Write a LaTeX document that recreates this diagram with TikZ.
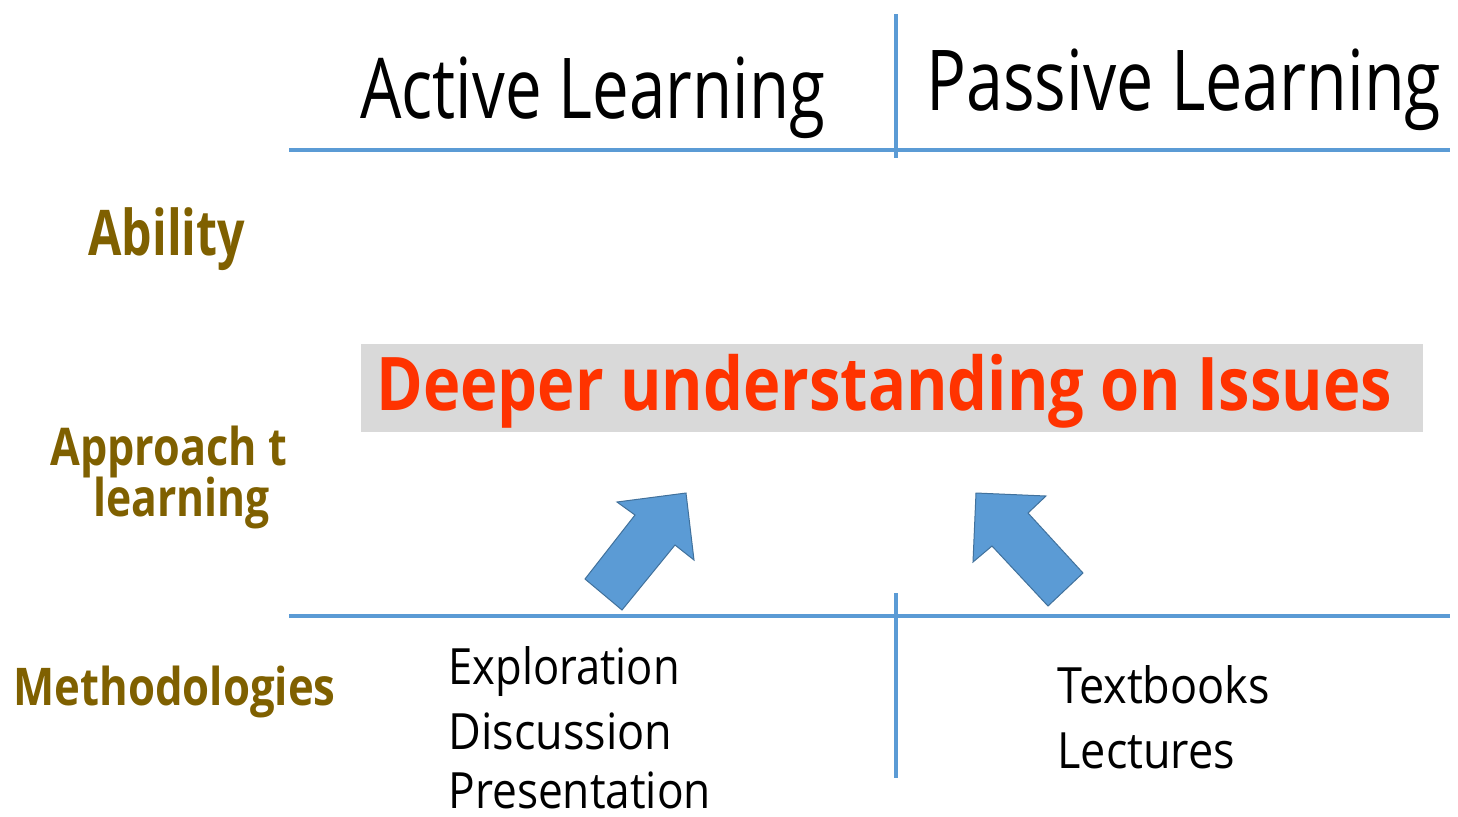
\documentclass[tikz,border=0pt]{standalone}
\usepackage{fontspec}
\usepackage{graphicx}
\setmainfont{Open Sans}
\definecolor{lineblue}{HTML}{5B9BD5}
\definecolor{arrowedge}{HTML}{41719C}
\definecolor{olive}{HTML}{7F6000}
\definecolor{issuered}{HTML}{FF3300}
\definecolor{boxgray}{HTML}{D9D9D9}
\newcommand{\narrow}[2]{\scalebox{#1}[1]{#2}}
\tikzset{
	divider/.style={lineblue, line width=2pt},
	heading/.style={anchor=base west, inner sep=0pt, font=\fontsize{42}{48}\selectfont},
	rowlabel/.style={anchor=base west, inner sep=0pt, text=olive, font=\bfseries\fontsize{26}{30}\selectfont},
	method/.style={anchor=base west, inner sep=0pt, font=\fontsize{25}{30}\selectfont},
	blockarrow/.style={fill=lineblue, draw=arrowedge, line width=0.5pt, line join=miter}
}
\begin{document}
\begin{tikzpicture}[x=0.5pt, y=-0.5pt]
	\useasboundingbox (0,0) rectangle (1458,816);
	
	\node[heading] (active) at (360,118) {\narrow{0.778}{Active Learning}};
	\node[heading] (passive) at (926,110) {\narrow{0.79}{Passive Learning}};
	
	\draw[divider] (289,150) -- (1450,150);
	\draw[divider] (896,14) -- (896,158);
	\draw[divider] (289,616) -- (1450,616);
	\draw[divider] (896,593) -- (896,778);
	
	\node[rowlabel, font=\bfseries\fontsize{31.5}{36}\selectfont] (ability) at (88,255) {\narrow{0.767}{Ability}};
	\node[rowlabel] (approach) at (50,465) {\narrow{0.83}{Approach t}};
	\node[rowlabel] (learning) at (93,516) {\narrow{0.82}{learning}};
	\node[rowlabel] (methods) at (13,705) {\narrow{0.84}{Methodologies}};
	
	\fill[boxgray] (361,344) rectangle (1423,432);
	\node[anchor=base west, inner sep=0pt, text=issuered, font=\bfseries\fontsize{37}{42}\selectfont] (issues) at (376,410) {\narrow{0.854}{Deeper understanding on Issues}};
	
	\draw[blockarrow] (686,493) -- (617,502) -- (635,515) -- (585,579) -- (622,610) -- (675,545) -- (694,560) -- cycle;
	\draw[blockarrow] (976,493) -- (1046,496) -- (1028,513) -- (1083,573) -- (1048,606) -- (992,546) -- (973,562) -- cycle;
	
	\node[method] (explore) at (448,684) {\narrow{0.87}{Exploration}};
	\node[method] (discuss) at (448,749) {\narrow{0.9}{Discussion}};
	\node[method] (present) at (448,808) {\narrow{0.885}{Presentation}};
	\node[method] (books) at (1057,703) {\narrow{0.9}{Textbooks}};
	\node[method] (lecture) at (1057,768) {\narrow{0.9}{Lectures}};
	
\end{tikzpicture}
\end{document}
